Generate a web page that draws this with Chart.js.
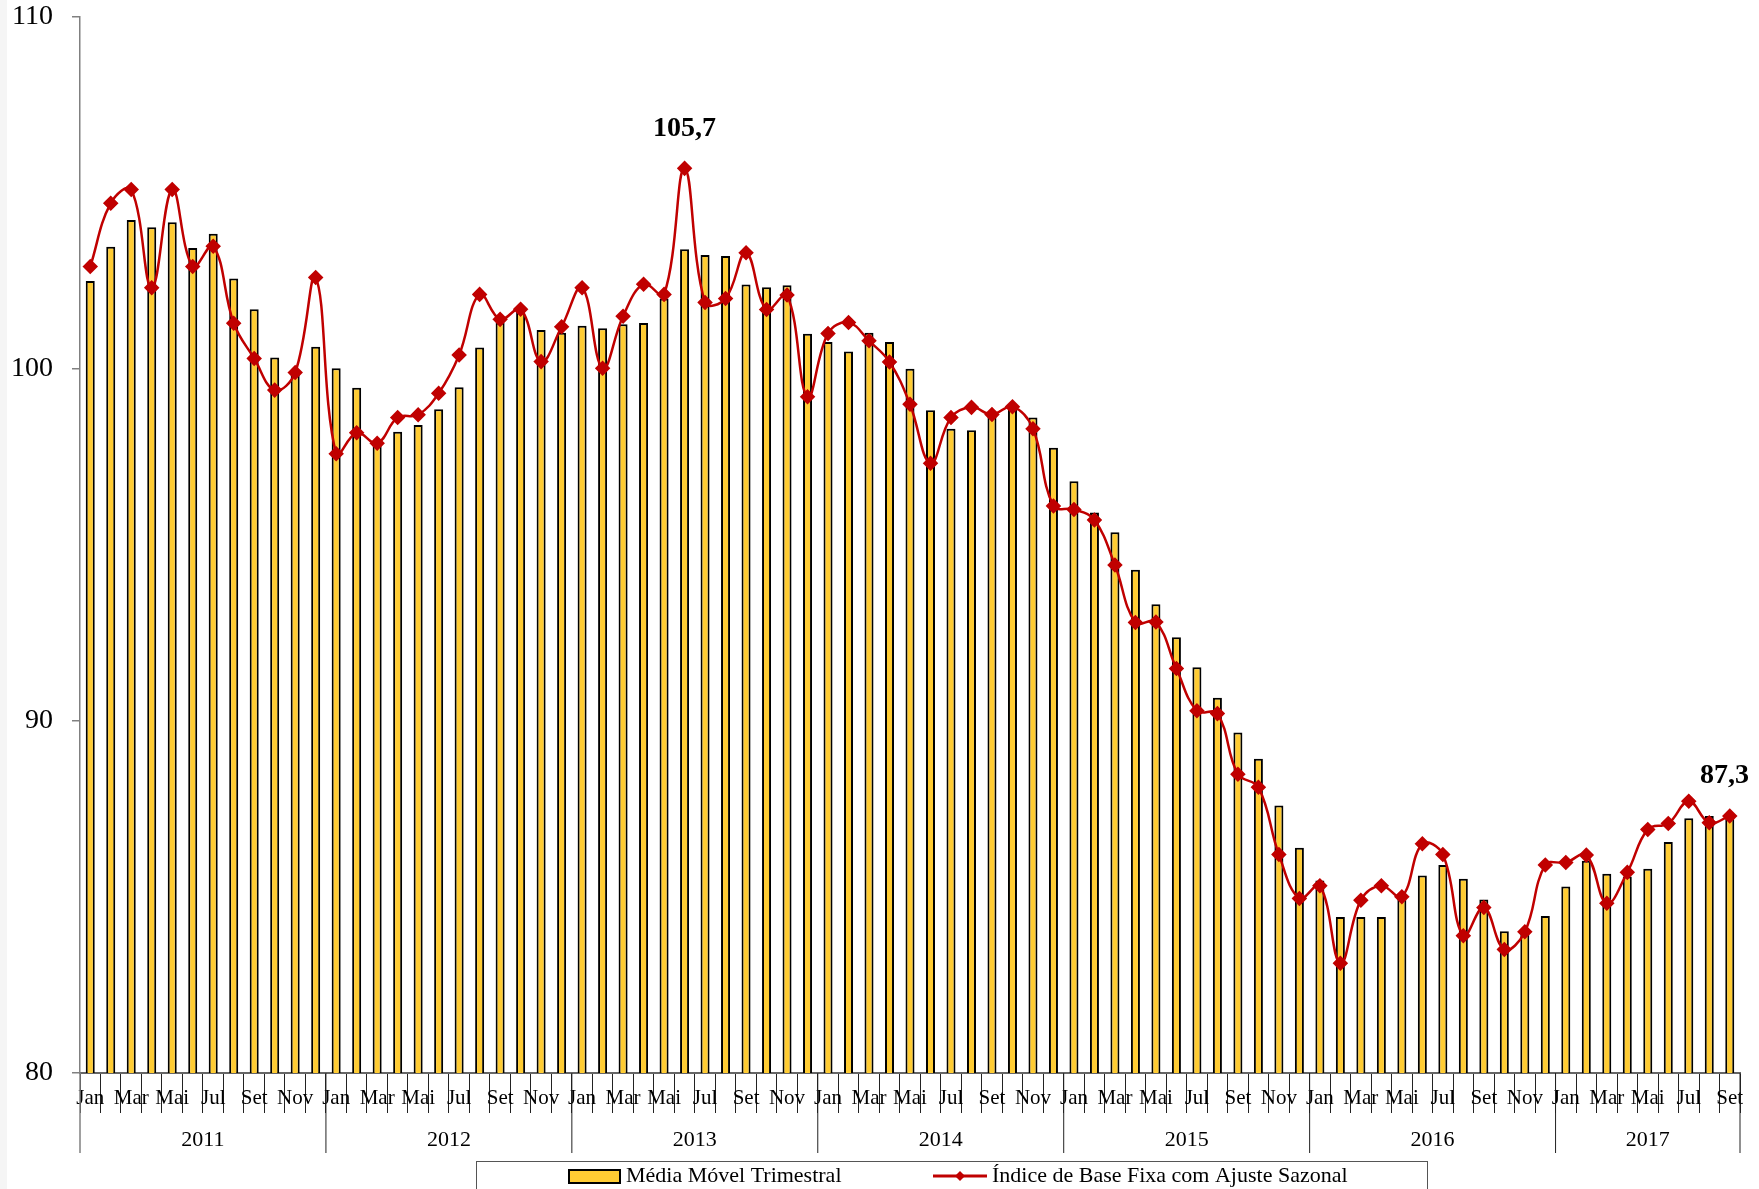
<!DOCTYPE html>
<html>
<head>
<meta charset="utf-8">
<script src="https://cdn.jsdelivr.net/npm/chart.js@4.4.1/dist/chart.umd.min.js"></script>
<style>
  html, body { margin: 0; padding: 0; background: #f5f5f5; }
  #wrap { position: absolute; left: 7px; top: 0; width: 1752px; height: 1189px; background: #fff; }
</style>
</head>
<body>
<div id="wrap"><canvas id="chart" width="1752" height="1189"></canvas></div>
<script>
// month names (only every other one is printed), years on the second row
const months = ['Jan', 'Fev', 'Mar', 'Abr', 'Mai', 'Jun', 'Jul', 'Ago', 'Set', 'Out', 'Nov', 'Dez'];
const years = ['2011', '2012', '2013', '2014', '2015', '2016', '2017'];

// Média Móvel Trimestral (bars), Jan 2011 - Set 2017
const mediaMovel = [
  102.5, 103.47, 104.23, 104.03, 104.17, 103.44, 103.84, 102.57, 101.7, 100.33, 99.9, 100.63,
  100.02, 99.47, 97.89, 98.22, 98.41, 98.86, 99.48, 100.61, 101.32, 101.7, 101.11, 101.03,
  101.23, 101.16, 101.27, 101.31, 102.0, 103.4, 103.24, 103.21, 102.4, 102.32, 102.38, 101.0,
  100.77, 100.5, 101.03, 100.77, 100.01, 98.83, 98.3, 98.26, 98.68, 98.91, 98.62, 97.76,
  96.81, 95.92, 95.36, 94.3, 93.32, 92.38, 91.53, 90.66, 89.67, 88.93, 87.6, 86.4,
  85.47, 84.43, 84.43, 84.43, 84.98, 85.61, 85.91, 85.52, 84.93, 84.03, 84.0, 84.46,
  85.3, 86.03, 85.66, 85.58, 85.8, 86.56, 87.24, 87.3, 87.33
];

// Índice de Base Fixa com Ajuste Sazonal (line)
const indice = [
  102.91, 104.71, 105.1, 102.31, 105.1, 102.91, 103.49, 101.3, 100.3, 99.4, 99.9, 102.6,
  97.59, 98.19, 97.89, 98.62, 98.7, 99.31, 100.4, 102.12, 101.41, 101.7, 100.21, 101.2,
  102.31, 100.02, 101.5, 102.41, 102.12, 105.7, 101.89, 102.0, 103.3, 101.69, 102.1, 99.21,
  101.01, 101.32, 100.8, 100.2, 99.0, 97.32, 98.62, 98.91, 98.71, 98.93, 98.3, 96.11,
  96.01, 95.71, 94.43, 92.8, 92.81, 91.49, 90.29, 90.21, 88.49, 88.12, 86.21, 84.96,
  85.32, 83.12, 84.91, 85.32, 85.01, 86.51, 86.21, 83.9, 84.7, 83.51, 84.01, 85.91,
  85.98, 86.19, 84.82, 85.7, 86.92, 87.09, 87.72, 87.11, 87.3
];

const labels = mediaMovel.map((v, i) => months[i % 12]);
const yearOf = mediaMovel.map((v, i) => years[Math.floor(i / 12)]);
// points that get a value label: the peak and the last month
const marked = [indice.indexOf(Math.max(...indice)), indice.length - 1];

const SERIF = '"Liberation Serif", "DejaVu Serif", serif';
const barColor = '#FFCC33';
const lineColor = '#C00000';

// second row of the x axis: years with long separators
const yearAxis = {
  id: 'yearAxis',
  afterDraw(chart) {
    const x = chart.scales.x;
    const ctx = chart.ctx;
    const half = (x.getPixelForValue(1) - x.getPixelForValue(0)) / 2;
    const top = x.top;
    ctx.save();
    ctx.font = '22px ' + SERIF;
    ctx.fillStyle = '#000';
    ctx.textAlign = 'center';
    ctx.textBaseline = 'middle';
    let start = 0;
    years.forEach((yr, k) => {
      let end = start;
      while (end + 1 < yearOf.length && yearOf[end + 1] === yr) end++;
      const x0 = x.getPixelForValue(start) - half;
      const x1 = x.getPixelForValue(end) + half;
      ctx.fillText(yr, (x0 + x1) / 2, top + 67);
      ctx.strokeStyle = k === 0 ? '#808080' : '#222';
      ctx.lineWidth = k === 0 ? 1.5 : 1;
      ctx.beginPath();
      ctx.moveTo(x0, top);
      ctx.lineTo(x0, top + 80);
      ctx.stroke();
      if (k === years.length - 1) {
        ctx.strokeStyle = '#222';
        ctx.lineWidth = 1;
        ctx.beginPath();
        ctx.moveTo(x1, top);
        ctx.lineTo(x1, top + 80);
        ctx.stroke();
      }
      start = end + 1;
    });
    ctx.restore();
  }
};

// bold value labels above the marked points
const pointLabels = {
  id: 'pointLabels',
  afterDatasetsDraw(chart) {
    const meta = chart.getDatasetMeta(1);
    const ctx = chart.ctx;
    ctx.save();
    ctx.font = 'bold 28px ' + SERIF;
    ctx.fillStyle = '#000';
    ctx.textAlign = 'center';
    ctx.textBaseline = 'middle';
    marked.forEach(i => {
      const p = meta.data[i];
      const txt = indice[i].toFixed(1).replace('.', ',');
      const w = ctx.measureText(txt).width;
      const cx = Math.min(p.x, chart.width - w / 2 - 10);
      ctx.fillText(txt, cx, p.y - 40);
    });
    ctx.restore();
  }
};

// framed legend at the bottom
const boxLegend = {
  id: 'boxLegend',
  afterDraw(chart) {
    const ctx = chart.ctx;
    const ds = chart.data.datasets;
    const y = 1176;
    ctx.save();
    ctx.strokeStyle = '#555';
    ctx.lineWidth = 1;
    ctx.strokeRect(469.5, 1161.5, 951, 40);

    ctx.font = '22px ' + SERIF;
    ctx.fillStyle = '#000';
    ctx.textBaseline = 'middle';
    ctx.textAlign = 'left';

    // bars
    ctx.fillStyle = ds[0].backgroundColor;
    ctx.fillRect(562, 1170, 51, 13);
    ctx.strokeStyle = ds[0].borderColor;
    ctx.lineWidth = 2;
    ctx.strokeRect(562, 1170, 51, 13);
    ctx.fillStyle = '#000';
    ctx.fillText(ds[0].label, 619, y);

    // line
    ctx.strokeStyle = ds[1].borderColor;
    ctx.lineWidth = 3;
    ctx.beginPath();
    ctx.moveTo(926, y);
    ctx.lineTo(980, y);
    ctx.stroke();
    ctx.fillStyle = ds[1].pointBackgroundColor;
    ctx.beginPath();
    ctx.moveTo(953, y - 5);
    ctx.lineTo(958, y);
    ctx.lineTo(953, y + 5);
    ctx.lineTo(948, y);
    ctx.closePath();
    ctx.fill();
    ctx.fillStyle = '#000';
    ctx.fillText(ds[1].label, 985, y);
    ctx.restore();
  }
};

new Chart(
  document.getElementById('chart'),
  {
    data: {
      labels: labels,
      datasets: [
        {
          type: 'bar',
          label: 'Média Móvel Trimestral',
          data: mediaMovel,
          backgroundColor: barColor,
          borderColor: '#000',
          borderWidth: 2,
          barPercentage: 0.44,
          categoryPercentage: 1,
          order: 1,
        },
        {
          type: 'line',
          label: 'Índice de Base Fixa com Ajuste Sazonal',
          data: indice,
          borderColor: lineColor,
          borderWidth: 2.5,
          tension: 0.4,
          pointStyle: 'rectRot',
          pointRadius: 6,
          pointBackgroundColor: lineColor,
          pointBorderColor: lineColor,
          order: 0,
        }
      ]
    },
    options: {
      responsive: false,
      animation: false,
      layout: { padding: { top: 17, right: 19, left: 0, bottom: 0 } },
      plugins: {
        legend: { display: false },
        tooltip: { enabled: false },
      },
      scales: {
        x: {
          type: 'category',
          offset: true,
          afterFit: s => { s.height = 116; },
          grid: {
            offset: true,
            drawOnChartArea: false,
            tickLength: 40,
            color: '#222',
            lineWidth: 1,
          },
          border: { color: '#666', width: 2 },
          ticks: {
            autoSkip: false,
            maxRotation: 0,
            padding: -27,
            color: '#000',
            font: { family: SERIF, size: 21 },
            callback: function (v, i) { return i % 2 === 0 ? this.getLabelForValue(v) : ''; },
          },
        },
        y: {
          min: 80,
          max: 110,
          afterFit: s => { s.width = 73; s.paddingTop = 0; s.paddingBottom = 0; },
          grid: {
            drawOnChartArea: false,
            tickLength: 8,
            color: '#808080',
            lineWidth: 1.5,
          },
          border: { color: '#808080', width: 1.5 },
          ticks: {
            stepSize: 10,
            padding: 19,
            color: '#000',
            font: { family: SERIF, size: 28 },
          },
        }
      }
    },
    plugins: [yearAxis, pointLabels, boxLegend]
  }
);
</script>
</body>
</html>
